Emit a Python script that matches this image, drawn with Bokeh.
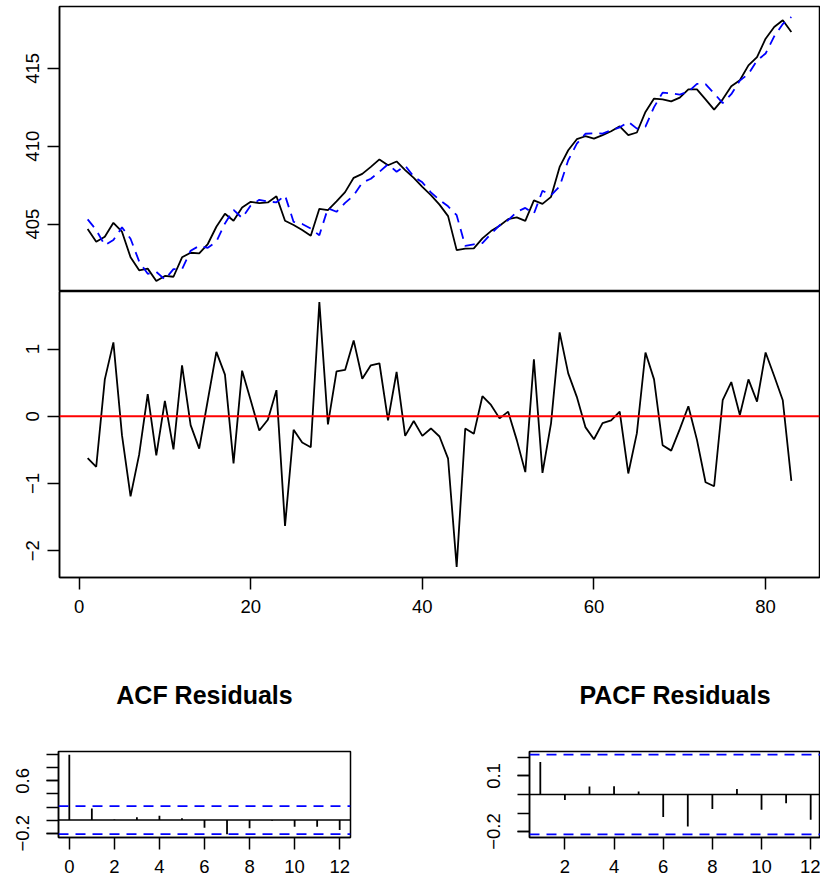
from bokeh.plotting import figure
from bokeh.models import Range1d, FixedTicker, Span
from bokeh.layouts import column, row
from bokeh.embed import file_html
from bokeh.resources import INLINE

# ---------------- data ----------------
time_index = list(range(1, 84))
observed = [
    404.68, 403.87, 404.19, 405.08, 404.51, 402.87, 402.03, 402.14, 401.35, 401.67,
    401.62, 402.87, 403.16, 403.12, 403.72, 404.83, 405.66, 405.21, 406.07, 406.43,
    406.35, 406.39, 406.79, 405.21, 404.94, 404.62, 404.25, 405.98, 405.90, 406.46,
    407.05, 407.97, 408.22, 408.67, 409.15, 408.78, 409.02, 408.46, 407.97, 407.39,
    406.86, 406.25, 405.51, 403.33, 403.42, 403.44, 404.08, 404.55, 404.89, 405.32,
    405.43, 405.21, 406.52, 406.30, 406.75, 408.67, 409.74, 410.45, 410.64, 410.49,
    410.71, 410.96, 411.28, 410.71, 410.88, 412.20, 413.06, 413.01, 412.88, 413.12,
    413.65, 413.65, 413.01, 412.35, 413.01, 413.85, 414.23, 415.19, 415.72, 416.90,
    417.65, 418.08, 417.33]
fitted = [
    405.30, 404.62, 403.64, 403.98, 404.79, 404.06, 402.60, 401.81, 401.93, 401.44,
    402.11, 402.11, 403.29, 403.60, 403.48, 403.87, 405.04, 405.91, 405.39, 406.19,
    406.56, 406.44, 406.40, 406.84, 405.14, 405.01, 404.71, 404.28, 406.02, 405.79,
    406.36, 406.84, 407.66, 407.91, 408.36, 408.84, 408.36, 408.75, 408.04, 407.68,
    407.04, 406.55, 406.14, 405.57, 403.60, 403.70, 403.78, 404.38, 404.92, 405.25,
    405.78, 406.04, 405.67, 407.14, 406.85, 407.42, 409.10, 410.16, 410.80, 410.83,
    410.81, 411.02, 411.21, 411.56, 411.13, 411.25, 412.51, 413.44, 413.39, 413.31,
    413.50, 414.00, 413.99, 413.39, 412.77, 413.34, 414.21, 414.64, 415.50, 415.95,
    417.05, 417.84, 418.29]
residuals = [
    -0.62, -0.75, 0.55, 1.10, -0.28, -1.19, -0.57, 0.33, -0.58, 0.23,
    -0.49, 0.76, -0.13, -0.48, 0.24, 0.96, 0.62, -0.70, 0.68, 0.24,
    -0.21, -0.05, 0.39, -1.63, -0.20, -0.39, -0.46, 1.70, -0.12, 0.67,
    0.69, 1.13, 0.56, 0.76, 0.79, -0.06, 0.66, -0.29, -0.07, -0.29,
    -0.18, -0.30, -0.63, -2.24, -0.18, -0.26, 0.30, 0.17, -0.03, 0.07,
    -0.35, -0.83, 0.85, -0.84, -0.10, 1.25, 0.64, 0.29, -0.16, -0.34,
    -0.10, -0.06, 0.07, -0.85, -0.25, 0.95, 0.55, -0.43, -0.51, -0.19,
    0.15, -0.35, -0.98, -1.04, 0.24, 0.51, 0.02, 0.55, 0.22, 0.95,
    0.60, 0.24, -0.96]

acf_lags = list(range(0, 13))
acf_values = [1.0, 0.176, 0.01, 0.045, 0.065, 0.03, -0.117, -0.217, -0.126, -0.01, -0.10, -0.10, -0.15]
pacf_lags = list(range(1, 13))
pacf_values = [0.176, -0.03, 0.043, 0.045, 0.016, -0.122, -0.173, -0.078, 0.03, -0.083, -0.047, -0.137]
conf_bound = 0.215

top_yticks = [405, 410, 415]
mid_yticks = [-2, -1, 0, 1]
mid_xticks = [0, 20, 40, 60, 80]
acf_xticks = [0, 2, 4, 6, 8, 10, 12]
pacf_xticks = [2, 4, 6, 8, 10, 12]
acf_ylabels = [-0.2, 0.6]
acf_yminor = [-0.2, 0.0, 0.2, 0.4, 0.6, 0.8, 1.0]
pacf_ylabels = [-0.2, 0.1]
pacf_yminor = [-0.2, -0.1, 0.0, 0.1, 0.2]
minus_labels = {-2: "\u22122", -1: "\u22121", -0.2: "\u22120.2"}

FONT = "Liberation Sans"
TICK_FS = "18.5px"


def padded(lo, hi, frac=0.04):
    d = (hi - lo) * frac
    return lo - d, hi + d


def mkfig(xr, yr, fw, fh, bl, br, bt, bb, xaxis=True, title=None):
    kw = {}
    if title:
        kw["title"] = title
    p = figure(x_range=xr, y_range=yr, frame_width=fw, frame_height=fh,
               min_border_left=bl, min_border_right=br,
               min_border_top=bt, min_border_bottom=bb,
               output_backend="svg", toolbar_location=None, tools="",
               x_axis_location="below" if xaxis else None, **kw)
    p.grid.visible = False
    p.outline_line_color = "black"
    p.outline_line_width = 1.5
    p.background_fill_color = "white"
    p.border_fill_color = "white"
    return p


def style_axis(ax, ticks, minor=None, standoff=9):
    ax.ticker = FixedTicker(ticks=ticks, minor_ticks=minor or [])
    ax.axis_line_color = "black"
    ax.axis_line_width = 1.5
    ax.major_tick_out = 12
    ax.major_tick_in = 0
    ax.major_tick_line_color = "black"
    ax.major_tick_line_width = 1.5
    if minor:
        ax.minor_tick_out = 12
        ax.minor_tick_in = 0
        ax.minor_tick_line_color = "black"
        ax.minor_tick_line_width = 1.5
    else:
        ax.minor_tick_line_color = None
    ax.major_label_text_font = FONT
    ax.major_label_text_font_size = TICK_FS
    ax.major_label_text_color = "black"
    ax.major_label_standoff = standoff
    ax.major_label_overrides = {k: v for k, v in minus_labels.items() if k in ticks}


# ---------------- top: observed vs fitted ----------------
xlo, xhi = padded(min(time_index), max(time_index))
x_shared = Range1d(xlo, xhi)
ylo, yhi = padded(min(observed + fitted), max(observed + fitted))
p1 = mkfig(x_shared, Range1d(ylo, yhi), 760, 285, 59, 1, 6, 0, xaxis=False)
p1.line(time_index, observed, line_color="black", line_width=1.8)
p1.line(time_index, fitted, line_color="#0000FF", line_width=1.8, line_dash="10 7")
style_axis(p1.yaxis[0], top_yticks, standoff=8)
p1.yaxis[0].major_label_orientation = "vertical"

# ---------------- middle: residuals ----------------
rlo, rhi = padded(min(residuals), max(residuals))
p2 = mkfig(x_shared, Range1d(rlo, rhi), 760, 286, 59, 1, 0, 53)
p2.add_layout(Span(location=0, dimension="width", line_color="#FF0000", line_width=2))
p2.line(time_index, residuals, line_color="black", line_width=1.8)
style_axis(p2.yaxis[0], mid_yticks, standoff=8)
p2.yaxis[0].major_label_orientation = "vertical"
style_axis(p2.xaxis[0], mid_xticks, standoff=10)


def corr_panel(lags, vals, xticks, ylabels, yminor, fw, bl, br, title, trim_px=0):
    lo, hi = padded(min(lags), max(lags))
    span_px = (hi - lo) / fw
    xr = Range1d(lo, hi - span_px * trim_px)
    ylo_, yhi_ = padded(min(vals + [-conf_bound]), max(vals + [conf_bound]))
    p = mkfig(xr, Range1d(ylo_, yhi_), fw - trim_px, 86, bl, br, 121, 53, title=title)
    p.title.align = "center"
    p.title.text_font = FONT
    p.title.text_font_size = "25px"
    p.title.text_font_style = "bold"
    p.title.text_color = "black"
    p.title.standoff = 85
    p.add_layout(Span(location=0, dimension="width", line_color="black", line_width=1.5))
    for c in (conf_bound, -conf_bound):
        p.add_layout(Span(location=c, dimension="width", line_color="#0000FF",
                          line_width=1.8, line_dash="10 7"))
    p.segment(x0=lags, y0=[0] * len(lags), x1=lags, y1=vals, line_color="black", line_width=1.8)
    style_axis(p.xaxis[0], xticks, standoff=10)
    style_axis(p.yaxis[0], ylabels, minor=yminor, standoff=17)
    p.yaxis[0].major_label_orientation = "vertical"
    return p


p3 = corr_panel(acf_lags, acf_values, acf_xticks, acf_ylabels, acf_yminor, 292, 58, 90, "ACF Residuals")
p4 = corr_panel(pacf_lags, pacf_values, pacf_xticks, pacf_ylabels, pacf_yminor, 292, 89, 0,
                "PACF Residuals", trim_px=1)

layout = column(p1, p2, row(p3, p4))
open("out.html", "w").write(file_html(layout, INLINE))
